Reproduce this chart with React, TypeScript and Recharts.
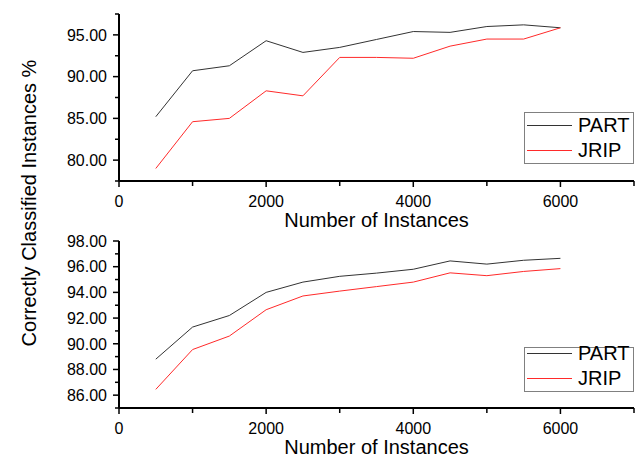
import React from 'react';
import { LineChart, Line, XAxis, YAxis, Legend } from 'recharts';

const instances = [500, 1000, 1500, 2000, 2500, 3000, 3500, 4000, 4500, 5000, 5500, 6000];

const topPart = [85.2, 90.7, 91.3, 94.3, 92.9, 93.5, 94.45, 95.4, 95.3, 96.0, 96.2, 95.85];
const topJrip = [79.0, 84.6, 85.0, 88.3, 87.7, 92.3, 92.3, 92.2, 93.65, 94.5, 94.5, 95.85];

const bottomPart = [88.8, 91.3, 92.2, 94.0, 94.8, 95.25, 95.5, 95.8, 96.45, 96.2, 96.5, 96.65];
const bottomJrip = [86.45, 89.55, 90.6, 92.65, 93.72, 94.1, 94.45, 94.8, 95.52, 95.3, 95.63, 95.85];

const xTicks = [0, 1000, 2000, 3000, 4000, 5000, 6000, 7000];
const xLabelTicks = [0, 2000, 4000, 6000];

const topYTicks = [77.5, 80, 82.5, 85, 87.5, 90, 92.5, 95, 97.5];
const topYLabelTicks = [80, 85, 90, 95];

const bottomYTicks = [85, 86, 87, 88, 89, 90, 91, 92, 93, 94, 95, 96, 97, 98];
const bottomYLabelTicks = [86, 88, 90, 92, 94, 96, 98];

const FONT = '"Liberation Sans", Arial, sans-serif';

const topData = instances.map((n, i) => ({ n, part: topPart[i], jrip: topJrip[i] }));
const bottomData = instances.map((n, i) => ({ n, part: bottomPart[i], jrip: bottomJrip[i] }));

const makeXTick = (labels: number[]) => (props: any) => {
  const { x, y, payload } = props;
  const major = labels.includes(payload.value);
  return (
    <g>
      <line x1={x} y1={y} x2={x} y2={y + (major ? 6 : 5)} stroke="#000" strokeWidth={1.5} />
      {major && (
        <text x={x} y={y + 26} textAnchor="middle" fontSize={16} fontFamily={FONT} fill="#000">
          {payload.value}
        </text>
      )}
    </g>
  );
};

const makeYTick = (labels: number[]) => (props: any) => {
  const { x, y, payload } = props;
  const major = labels.includes(payload.value);
  return (
    <g>
      <line x1={x - (major ? 6 : 4)} y1={y} x2={x} y2={y} stroke="#000" strokeWidth={1.5} />
      {major && (
        <text x={x - 12} y={y} dy="0.36em" textAnchor="end" fontSize={16} fontFamily={FONT} fill="#000">
          {payload.value.toFixed(2)}
        </text>
      )}
    </g>
  );
};

const xTitle = (props: any) => {
  const vb = props.viewBox;
  return (
    <text x={vb.x + vb.width / 2} y={vb.y + 45.5} textAnchor="middle" fontSize={20} fontFamily={FONT} fill="#000">
      Number of Instances
    </text>
  );
};

const LegendBox = (props: any) => {
  const { payload } = props;
  return (
    <div
      style={{
        border: '1.5px solid #808080',
        width: 110,
        boxSizing: 'border-box',
        height: props.boxHeight,
        background: '#fff',
      }}
    >
      <div style={{ marginTop: props.shift }}>
        {payload.map((p: any) => (
          <div key={p.value} style={{ display: 'flex', alignItems: 'center', height: 25 }}>
            <span style={{ width: 45, height: 1, background: p.color, marginLeft: 2, marginRight: 6 }} />
            <span style={{ fontSize: 20, fontFamily: FONT, color: '#000', lineHeight: '25px' }}>{p.value}</span>
          </div>
        ))}
      </div>
    </div>
  );
};

interface PanelProps {
  data: { n: number; part: number; jrip: number }[];
  yDomain: [number, number];
  yTicks: number[];
  yLabels: number[];
  legendTop: number;
  legendHeight: number;
  legendShift: number;
}

const Panel: React.FC<PanelProps> = ({ data, yDomain, yTicks, yLabels, legendTop, legendHeight, legendShift }) => (
  <LineChart width={641} height={230} data={data} margin={{ top: 14, right: 7, bottom: 0, left: 0 }}>
    <XAxis
      dataKey="n"
      type="number"
      domain={[0, 7000]}
      ticks={xTicks}
      interval={0}
      height={49}
      tickSize={0}
      tickMargin={0}
      tickLine={false}
      axisLine={{ stroke: '#000', strokeWidth: 2 }}
      tick={makeXTick(xLabelTicks)}
      label={{ content: xTitle }}
    />
    <YAxis
      type="number"
      domain={yDomain}
      ticks={yTicks}
      interval={0}
      width={119}
      tickSize={0}
      tickMargin={0}
      tickLine={false}
      axisLine={{ stroke: '#000', strokeWidth: 2 }}
      tick={makeYTick(yLabels)}
      allowDataOverflow
    />
    <Legend
      layout="vertical"
      align="center"
      verticalAlign="middle"
      itemSorter={null}
      wrapperStyle={{ left: 524, top: legendTop, width: 110 }}
      content={(p: any) => <LegendBox {...p} boxHeight={legendHeight} shift={legendShift} />}
    />
    <Line dataKey="part" name="PART" stroke="#333333" strokeWidth={1} dot={false} isAnimationActive={false} />
    <Line dataKey="jrip" name="JRIP" stroke="#ff2a2a" strokeWidth={1} dot={false} isAnimationActive={false} />
  </LineChart>
);

export default function App() {
  return (
    <div style={{ position: 'absolute', left: 0, top: 0, width: 641, height: 457, background: '#fff' }}>
      <div style={{ position: 'absolute', left: 0, top: 0 }}>
        <Panel
          data={topData}
          yDomain={[77.5, 97.5]}
          yTicks={topYTicks}
          yLabels={topYLabelTicks}
          legendTop={112}
          legendHeight={52}
          legendShift={0}
        />
      </div>
      <div style={{ position: 'absolute', left: 0, top: 227 }}>
        <Panel
          data={bottomData}
          yDomain={[85, 98]}
          yTicks={bottomYTicks}
          yLabels={bottomYLabelTicks}
          legendTop={120}
          legendHeight={45}
          legendShift={-7}
        />
      </div>
      <svg width={60} height={457} style={{ position: 'absolute', left: 0, top: 0 }}>
        <text
          x={36}
          y={203}
          transform="rotate(-90 36 203)"
          textAnchor="middle"
          fontSize={20}
          fontFamily={FONT}
          fill="#000"
        >
          Correctly Classified Instances %
        </text>
      </svg>
    </div>
  );
}
